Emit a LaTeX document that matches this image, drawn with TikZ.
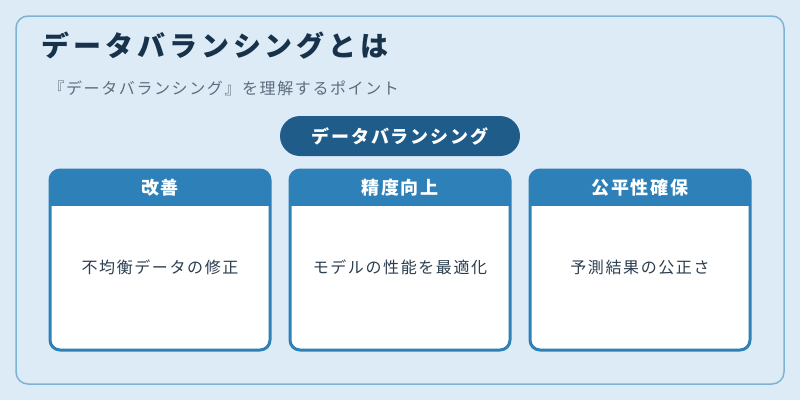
\documentclass[tikz,border=0pt]{standalone}
\usepackage{fontspec}
\setmainfont{Noto Sans CJK JP}
\definecolor{pagebg}{HTML}{DCEBF6}
\definecolor{frameline}{HTML}{7FB3D5}
\definecolor{titleink}{HTML}{17324A}
\definecolor{subink}{HTML}{5D6D7E}
\definecolor{pillfill}{HTML}{1F5C8A}
\definecolor{cardblue}{HTML}{2E81B8}
\definecolor{bodyink}{HTML}{2C3E50}
\tikzset{
  headtext/.style={text=white,font=\fontsize{18}{21}\selectfont\bfseries\addfontfeatures{LetterSpace=10}},
  bodytext/.style={text=bodyink,font=\fontsize{16}{19}\selectfont\addfontfeatures{LetterSpace=10}}
}
\begin{document}
\begin{tikzpicture}[x=1pt,y=-1pt]
 \useasboundingbox[fill=pagebg] (0,0) rectangle (800,400);
 \draw[frameline,line width=1.5pt,rounded corners=12pt] (16,16) rectangle (784,384);
 \node[anchor=west,text=titleink,font=\fontsize{28}{33}\selectfont\bfseries\addfontfeatures{LetterSpace=14}] (title) at (38,46) {データバランシングとは};
 \node[anchor=west,text=subink,font=\fontsize{16}{19}\selectfont\addfontfeatures{LetterSpace=10}] (subtitle) at (45,88) {『データバランシング』を理解するポイント};
 \node[fill=pillfill,rounded corners=20pt,minimum width=240pt,minimum height=40pt,headtext] (pill) at (400,136) {データバランシング};
 \begin{scope}[xshift=50pt,yshift=-170pt]
  \begin{scope}
   \clip[rounded corners=10pt] (0,0) rectangle (220,180);
   \fill[white] (0,0) rectangle (220,180);
   \fill[cardblue] (0,0) rectangle (220,36);
  \end{scope}
  \draw[cardblue,line width=3pt,rounded corners=10pt] (0,0) rectangle (220,180);
  \node[headtext] (headA) at (110,18) {改善};
  \node[bodytext] (bodyA) at (110,97) {不均衡データの修正};
 \end{scope}
 \begin{scope}[xshift=290pt,yshift=-170pt]
  \begin{scope}
   \clip[rounded corners=10pt] (0,0) rectangle (220,180);
   \fill[white] (0,0) rectangle (220,180);
   \fill[cardblue] (0,0) rectangle (220,36);
  \end{scope}
  \draw[cardblue,line width=3pt,rounded corners=10pt] (0,0) rectangle (220,180);
  \node[headtext] (headB) at (110,18) {精度向上};
  \node[bodytext] (bodyB) at (110,97) {モデルの性能を最適化};
 \end{scope}
 \begin{scope}[xshift=530pt,yshift=-170pt]
  \begin{scope}
   \clip[rounded corners=10pt] (0,0) rectangle (220,180);
   \fill[white] (0,0) rectangle (220,180);
   \fill[cardblue] (0,0) rectangle (220,36);
  \end{scope}
  \draw[cardblue,line width=3pt,rounded corners=10pt] (0,0) rectangle (220,180);
  \node[headtext] (headC) at (110,18) {公平性確保};
  \node[bodytext] (bodyC) at (110,97) {予測結果の公正さ};
 \end{scope}
\end{tikzpicture}
\end{document}
